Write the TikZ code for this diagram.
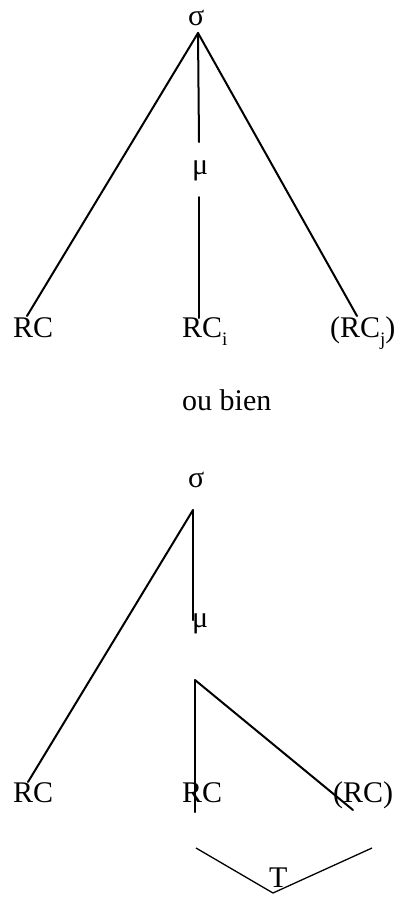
\documentclass[tikz,border=0pt]{standalone}
\usepackage{fontspec}
\setmainfont{Liberation Serif}
\newcommand{\subx}[1]{\raisebox{-0.28em}{\fontsize{19}{19}\selectfont #1}}
\begin{document}
\begin{tikzpicture}[x=1pt,y=-1pt,
  lbl/.style={inner sep=0pt,anchor=base west,font=\fontsize{30}{36}\selectfont},
  edge/.style={line width=2pt,line cap=round},
  thin/.style={line width=1.3pt}]
\useasboundingbox (0,0) rectangle (403,903);
% ---- top tree ----
\node[lbl] (s1) at (188,25) {σ};
\coordinate (a1) at (198,33);
\coordinate (e1) at (27,316);
\coordinate (m1t) at (199,142);
\node[lbl] (mu1) at (192,174) {μ};
\coordinate (m1b) at (199,197);
\coordinate (e2) at (199,318);
\coordinate (e3) at (357,316);
\node[lbl] (rc1) at (13,337) {RC};
\node[lbl] (rc2) at (182,337) {RC\subx{i}};
\node[lbl] (rc3) at (330,337) {(RC\subx{j})};
\draw[edge] (a1) -- (e1);
\draw[edge] (a1) -- (m1t);
\draw[edge] (m1b) -- (e2);
\draw[edge] (a1) -- (e3);
% ---- ou bien ----
\node[lbl] (ou) at (182,410) {ou bien};
% ---- bottom tree ----
\node[lbl] (s2) at (188,487) {σ};
\coordinate (a2) at (193,510);
\coordinate (f1) at (28,782);
\coordinate (f2) at (193,620);
\node[lbl] (mu2) at (192,627) {μ};
\coordinate (a3) at (195,680);
\coordinate (g1) at (195,812);
\coordinate (g2) at (353,810);
\node[lbl] (rc4) at (13,802) {RC};
\node[lbl] (rc5) at (182,802) {RC};
\node[lbl] (rc6) at (333,802) {(RC)};
\draw[edge] (a2) -- (f1);
\draw[edge] (a2) -- (f2);
\draw[edge] (a3) -- (g1);
\draw[edge] (a3) -- (g2);
% ---- T bracket ----
\coordinate (t1) at (196,848);
\coordinate (t2) at (273,893);
\coordinate (t3) at (372,848);
\node[lbl] (T) at (269,887) {T};
\draw[thin] (t1) -- (t2) -- (t3);
\end{tikzpicture}
\end{document}
